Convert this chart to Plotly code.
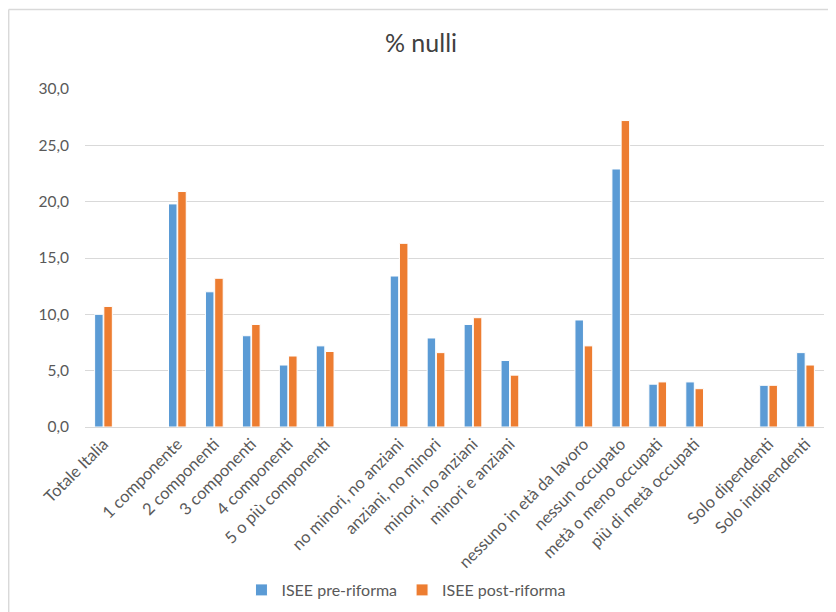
import plotly.graph_objects as go

categories = [
    "Totale Italia", " ",
    "1 componente", "2 componenti", "3 componenti", "4 componenti", "5 o più componenti", "  ",
    "no minori, no anziani", "anziani, no minori", "minori, no anziani", "minori e anziani", "   ",
    "nessuno in età da lavoro", "nessun occupato", "metà o meno occupati", "più di metà occupati", "    ",
    "Solo dipendenti", "Solo indipendenti",
]
pre_riforma = [10.0, None, 19.8, 12.0, 8.1, 5.5, 7.2, None,
               13.4, 7.9, 9.1, 5.9, None,
               9.5, 22.9, 3.8, 4.0, None,
               3.7, 6.6]
post_riforma = [10.7, None, 20.9, 13.2, 9.1, 6.3, 6.7, None,
                16.3, 6.6, 9.7, 4.6, None,
                7.2, 27.2, 4.0, 3.4, None,
                3.7, 5.5]
tick_vals = [0, 5, 10, 15, 20, 25, 30]

FONT = "Lato, 'Open Sans', sans-serif"
TXT = "#595959"

fig = go.Figure()
fig.add_trace(go.Bar(name="ISEE pre-riforma", x=categories, y=pre_riforma,
                     marker=dict(color="#5B9BD5", line=dict(color="white", width=1))))
fig.add_trace(go.Bar(name="ISEE post-riforma", x=categories, y=post_riforma,
                     marker=dict(color="#ED7D31", line=dict(color="white", width=1))))

# page body has an 8px margin, so the figure is drawn 8px in from the top-left
fig.update_layout(
    width=828, height=604,
    margin=dict(l=77, r=12, t=81, b=185, autoexpand=False),
    paper_bgcolor="white", plot_bgcolor="white",
    barmode="group", bargap=0.5, bargroupgap=0.08,
    separators=",.",
    font=dict(family=FONT, size=15, color=TXT),
    title=dict(text="% nulli", x=(421 - 8) / 828, xanchor="center", y=1 - 35 / 604, yanchor="middle",
               font=dict(family=FONT, size=25, color="#404040")),
    legend=dict(orientation="h", x=0.435, xanchor="center",
                yref="container", y=1 - (590 - 8) / 604, yanchor="middle",
                font=dict(family=FONT, size=16, color=TXT), traceorder="normal",
                itemwidth=30),
    xaxis=dict(type="category", tickangle=-45, showgrid=False, showline=True,
               linecolor="#D9D9D9", linewidth=1, ticks="", automargin=False,
               tickfont=dict(family=FONT, size=16.5, color=TXT)),
    yaxis=dict(range=[0, 30], tickvals=tick_vals, tickformat=".1f", showgrid=True,
               gridcolor="#D9D9D9", gridwidth=1, zeroline=False, showline=False,
               ticks="", automargin=False, ticklabelstandoff=15,
               tickfont=dict(family=FONT, size=15.5, color=TXT)),
    showlegend=True,
)

# chart border (left and top edges visible)
fig.add_shape(type="line", xref="paper", yref="paper", x0=-0.1033, x1=-0.1033, y0=-0.6, y1=1.2350,
              line=dict(color="#D9D9D9", width=1.5))
fig.add_shape(type="line", xref="paper", yref="paper", x0=-0.1033, x1=1.1, y0=1.2350, y1=1.2350,
              line=dict(color="#D9D9D9", width=1.5))

fig.write_html("out.html")
